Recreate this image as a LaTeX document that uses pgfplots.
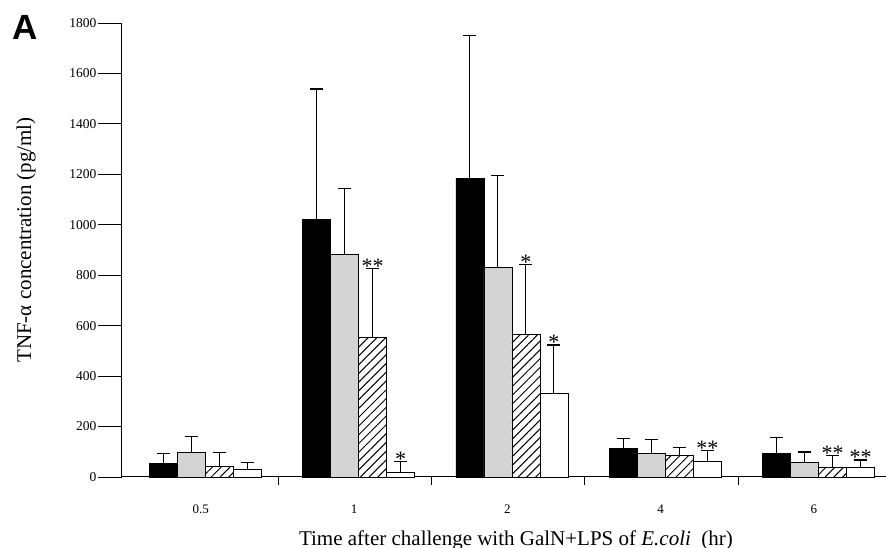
\documentclass[border=0pt]{standalone}
\usepackage{pgfplots}
\pgfplotsset{compat=1.18}
\usepackage{fontspec}
\setmainfont{Liberation Serif}
\newfontfamily\sansbold{Liberation Sans}
\usetikzlibrary{patterns.meta}
\begin{document}
\begin{tikzpicture}
\begin{axis}[
  scale only axis,
  width=764pt, height=454pt,
  xmin=-0.044, xmax=4.94, ymin=0, ymax=1800,
  axis lines=left,
  axis line style={-, line width=1pt},
  ytick={0,200,...,1800},
  yticklabel style={font=\fontsize{13.5}{15}\selectfont, xshift=2pt},
  /pgf/number format/assume math mode=true,
  /pgf/number format/set thousands separator={},
  xtick={0.47,1.47,2.47,3.47,4.47},
  xticklabels={0.5,1,2,4,6},
  xticklabel style={font=\fontsize{13}{15}\selectfont},
  major x tick style={draw=none},
  minor xtick={0.975,1.975,2.975,3.975},
  minor tick length=8pt,
  major tick length=24pt,
  tick align=outside,
  tick style={black, line width=0.9pt},
  ylabel={TNF-α concentration (pg/ml)},
  ylabel style={font=\fontsize{21}{24}\selectfont, yshift=27pt, xshift=10pt},
  xlabel={Time after challenge with GalN+LPS of \textit{E.coli}\enspace(hr)},
  xlabel style={font=\fontsize{21}{24}\selectfont, xshift=12pt, yshift=-10pt},
  error bars/y dir=plus, error bars/y explicit,
  error bars/error bar style={black, line width=1pt},
  error bars/error mark options={rotate=90, mark size=6.5pt, line width=1.3pt, black},
  clip=false,
  bstyle/.style={ybar, bar width=28pt, bar shift=0pt, draw=black, line width=0.9pt},
]
\addplot[bstyle, fill=black] coordinates {
  (0.226,52) +- (0,42)
  (1.226,1022) +- (0,516)
  (2.226,1184) +- (0,567)
  (3.226,114) +- (0,40)
  (4.226,95) +- (0,61)
};
\addplot[bstyle, fill=black!17] coordinates {
  (0.4087,98) +- (0,62)
  (1.4087,884) +- (0,259)
  (2.4087,829) +- (0,366)
  (3.4087,94) +- (0,56)
  (4.4087,56) +- (0,43)
};
\addplot[bstyle, fill=white,
  postaction={pattern={Lines[angle=45,distance=6.2pt,line width=1pt]}}] coordinates {
  (0.5913,42) +- (0,56)
  (1.5913,554) +- (0,272)
  (2.5913,566) +- (0,277)
  (3.5913,85) +- (0,33)
  (4.5913,38) +- (0,46)
};
\addplot[bstyle, fill=white] coordinates {
  (0.774,28) +- (0,29)
  (1.774,20) +- (0,41)
  (2.774,332) +- (0,191)
  (3.774,62) +- (0,42)
  (4.774,38) +- (0,29)
};
% significance marks (bar centre, error-bar top)
\addplot[draw=none, mark=none, forget plot,
  nodes near coords, point meta=explicit symbolic,
  every node near coord/.style={font=\fontsize{22}{22}\selectfont, anchor=south, inner sep=1pt, yshift=-6pt}]
  coordinates {
  (1.5913,826) [**]
  (1.774,61) [*]
  (2.5913,843) [*]
  (2.774,523) [*]
  (3.774,104) [**]
  (4.5913,84) [**]
  (4.774,67) [**]
};
\end{axis}
\node[font=\sansbold\bfseries\fontsize{35}{35}\selectfont, anchor=north west, inner sep=0pt] at (-110pt,462pt) {A};
\pgfresetboundingbox
\path (-122pt,-71pt) rectangle (764pt,477pt);
\end{tikzpicture}
\end{document}
